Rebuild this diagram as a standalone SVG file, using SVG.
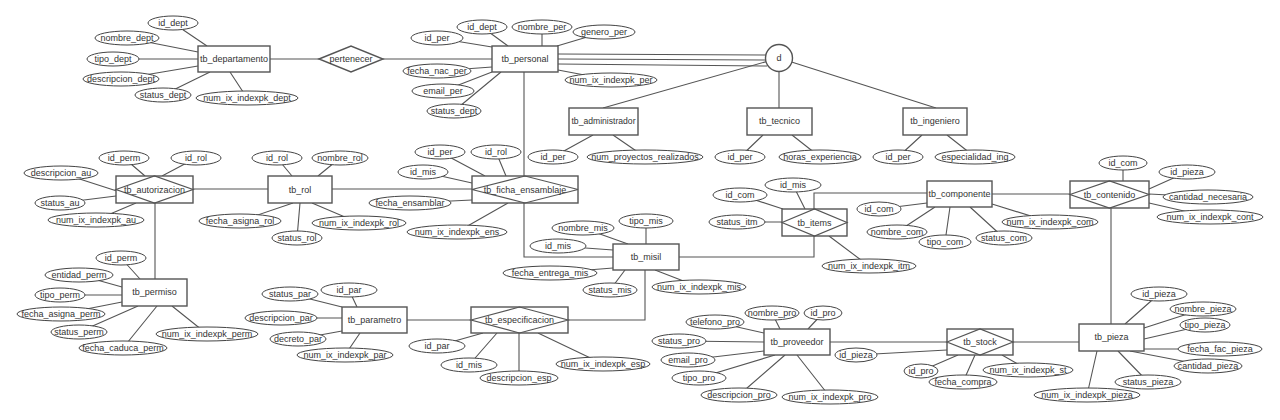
<svg xmlns="http://www.w3.org/2000/svg" width="1280" height="420" viewBox="0 0 1280 420">
<style>
.l{stroke:#555;stroke-width:1.1;fill:none}
.e{fill:#fff;stroke:#444;stroke-width:1}
.r{fill:#fff;stroke:#555;stroke-width:1.4}
.d{fill:none;stroke:#555;stroke-width:1.2}
.t{font-family:"Liberation Sans",Arial,sans-serif;font-size:9px;fill:#333;text-anchor:middle}
</style>
<rect width="1280" height="420" fill="#fff"/>
<g id="connectors" class="l">
<path d="M270,59H319M383,59H492"/>
<path d="M558,54L766,55M558,59L766,60M558,64L767,66"/>
<path d="M779,58L603,108M779,58V108M779,58L936,108"/>
<path d="M524,72V257H613M679,257H814V236M814,209V193H927M992,194H1070M1111,208V324M1013,342H1079M830,342H947M568,320H645V270M407,320H471M155,203V279M193,189H268M332,189H472"/>
<path d="M173,23L207,46M127,38L198,52M113,59L198,59M121,79L198,66M163,95L210,72M247,98L230,72"/>
<path d="M437,38L492,47M482,27L508,46M542,27L542,46M604,32L557,46M437,71L492,67M443,91L492,72M454,111L501,72M611,80L558,70"/>
<path d="M553,157L593,135M645,157L613,135M740,157L763,135M820,157L792,135M898,157L922,135M975,157L947,135"/>
<path d="M124,158L145,176M196,158L162,176M61,173L123,193M60,203L116,196M96,220L136,203"/>
<path d="M277,158L292,176M340,158L318,176M240,221L293,203M297,238L300,203M359,223L312,203"/>
<path d="M440,152L485,176M496,152L506,176M423,172L472,183M410,203L472,200M457,232L508,203"/>
<path d="M583,228L628,244M646,221L646,244M558,246L613,250M550,273L613,268M610,290L625,270M699,287L655,270"/>
<path d="M740,195L783,209M793,185L805,209M737,222L782,222M869,266L829,236"/>
<path d="M879,209L927,203M897,232L935,207M945,242L950,207M1004,238L970,207M1050,222L992,204"/>
<path d="M1123,163L1123,181M1187,172L1149,189M1208,197L1149,194M1210,217L1149,203"/>
<path d="M121,258L140,279M79,275L122,287M60,295L122,295M61,314L122,302M79,332L138,306M123,348L157,306M207,334L172,306"/>
<path d="M290,294L342,307M349,290L357,307M281,318L342,318M298,339L342,331M345,355L360,333"/>
<path d="M437,346L483,333M469,365L497,333M519,378L519,333M603,364L538,333"/>
<path d="M772,313L780,329M823,313L808,329M715,322L764,333M679,341L764,342M688,360L764,351M699,378L775,355M739,395L785,355M830,397L797,355"/>
<path d="M856,355L947,350M921,371L958,355M963,382L975,355M1028,370L1002,355"/>
<path d="M1159,294L1125,324M1203,309L1144,328M1205,325L1144,339M1220,349L1144,349M1208,366L1130,351M1148,382L1118,351M1087,395L1097,351"/>
</g>

<g id="tb_departamento">
<rect class="r" x="198" y="46" width="72" height="26"/><text class="t" x="234" y="62">tb_departamento</text>
<ellipse class="e" cx="173" cy="23" rx="25" ry="7"/><text class="t" x="173" y="26">id_dept</text>
<ellipse class="e" cx="127" cy="38" rx="32" ry="7"/><text class="t" x="127" y="41">nombre_dept</text>
<ellipse class="e" cx="113" cy="59" rx="26" ry="7"/><text class="t" x="113" y="62">tipo_dept</text>
<ellipse class="e" cx="121" cy="79" rx="38" ry="7"/><text class="t" x="121" y="82">descripcion_dept</text>
<ellipse class="e" cx="163" cy="95" rx="28" ry="7"/><text class="t" x="163" y="98">status_dept</text>
<ellipse class="e" cx="247" cy="98" rx="51" ry="7"/><text class="t" x="247" y="101">num_ix_indexpk_dept</text>
</g>

<g id="pertenecer">
<polygon class="r" points="319,59 351,46 383,59 351,72"/><text class="t" x="351" y="62">pertenecer</text>
</g>

<g id="tb_personal">
<rect class="r" x="492" y="46" width="66" height="26"/><text class="t" x="525" y="62">tb_personal</text>
<ellipse class="e" cx="437" cy="38" rx="26" ry="7"/><text class="t" x="437" y="41">id_per</text>
<ellipse class="e" cx="482" cy="27" rx="25" ry="7"/><text class="t" x="482" y="30">id_dept</text>
<ellipse class="e" cx="542" cy="27" rx="30" ry="7"/><text class="t" x="542" y="30">nombre_per</text>
<ellipse class="e" cx="604" cy="32" rx="31" ry="7"/><text class="t" x="604" y="35">genero_per</text>
<ellipse class="e" cx="437" cy="71" rx="34" ry="7"/><text class="t" x="437" y="74">fecha_nac_per</text>
<ellipse class="e" cx="443" cy="91" rx="31" ry="7"/><text class="t" x="443" y="94">email_per</text>
<ellipse class="e" cx="454" cy="111" rx="27" ry="7"/><text class="t" x="454" y="114">status_dept</text>
<ellipse class="e" cx="611" cy="80" rx="46" ry="7"/><text class="t" x="611" y="83">num_ix_indexpk_per</text>
</g>

<g id="d">
<circle class="r" cx="779" cy="58" r="13.5"/><text class="t" x="779" y="61">d</text>
</g>

<g id="tb_administrador">
<rect class="r" x="569" y="108" width="69" height="27"/><text class="t" x="603.5" y="124" style="font-size:8.6px">tb_administrador</text>
<ellipse class="e" cx="553" cy="157" rx="25" ry="7"/><text class="t" x="553" y="160">id_per</text>
<ellipse class="e" cx="645" cy="157" rx="58" ry="7"/><text class="t" x="645" y="160">num_proyectos_realizados</text>
</g>

<g id="tb_tecnico">
<rect class="r" x="747" y="108" width="65" height="27"/><text class="t" x="779.5" y="124">tb_tecnico</text>
<ellipse class="e" cx="740" cy="157" rx="25" ry="7"/><text class="t" x="740" y="160">id_per</text>
<ellipse class="e" cx="820" cy="157" rx="41" ry="7"/><text class="t" x="820" y="160">horas_experiencia</text>
</g>

<g id="tb_ingeniero">
<rect class="r" x="903" y="108" width="64" height="27"/><text class="t" x="935" y="124">tb_ingeniero</text>
<ellipse class="e" cx="898" cy="157" rx="25" ry="7"/><text class="t" x="898" y="160">id_per</text>
<ellipse class="e" cx="975" cy="157" rx="40" ry="7"/><text class="t" x="975" y="160">especialidad_ing</text>
</g>

<g id="tb_autorizacion">
<rect class="r" x="116" y="176" width="77" height="27"/><polygon class="d" points="116,189.5 154.5,176 193,189.5 154.5,203"/><text class="t" x="154.5" y="192.5">tb_autorizacion</text>
<ellipse class="e" cx="124" cy="158" rx="25" ry="7"/><text class="t" x="124" y="161">id_perm</text>
<ellipse class="e" cx="196" cy="158" rx="25" ry="7"/><text class="t" x="196" y="161">id_rol</text>
<ellipse class="e" cx="61" cy="173" rx="37" ry="7"/><text class="t" x="61" y="176">descripcion_au</text>
<ellipse class="e" cx="60" cy="203" rx="25" ry="7"/><text class="t" x="60" y="206">status_au</text>
<ellipse class="e" cx="96" cy="220" rx="48" ry="7"/><text class="t" x="96" y="223">num_ix_indexpk_au</text>
</g>

<g id="tb_rol">
<rect class="r" x="268" y="176" width="64" height="27"/><text class="t" x="300" y="192.5">tb_rol</text>
<ellipse class="e" cx="277" cy="158" rx="25" ry="7"/><text class="t" x="277" y="161">id_rol</text>
<ellipse class="e" cx="340" cy="158" rx="28" ry="7"/><text class="t" x="340" y="161">nombre_rol</text>
<ellipse class="e" cx="240" cy="221" rx="41" ry="7"/><text class="t" x="240" y="224">fecha_asigna_rol</text>
<ellipse class="e" cx="297" cy="238" rx="25" ry="7"/><text class="t" x="297" y="241">status_rol</text>
<ellipse class="e" cx="359" cy="223" rx="47" ry="7"/><text class="t" x="359" y="226">num_ix_indexpk_rol</text>
</g>

<g id="tb_ficha_ensamblaje">
<rect class="r" x="472" y="176" width="106" height="27"/><polygon class="d" points="472,189.5 525,176 578,189.5 525,203"/><text class="t" x="525" y="192.5">tb_ficha_ensamblaje</text>
<ellipse class="e" cx="440" cy="152" rx="25" ry="7"/><text class="t" x="440" y="155">id_per</text>
<ellipse class="e" cx="496" cy="152" rx="25" ry="7"/><text class="t" x="496" y="155">id_rol</text>
<ellipse class="e" cx="423" cy="172" rx="25" ry="7"/><text class="t" x="423" y="175">id_mis</text>
<ellipse class="e" cx="410" cy="203" rx="41" ry="7"/><text class="t" x="410" y="206">fecha_ensamblar</text>
<ellipse class="e" cx="457" cy="232" rx="50" ry="7"/><text class="t" x="457" y="235">num_ix_indexpk_ens</text>
</g>

<g id="tb_misil">
<rect class="r" x="613" y="244" width="66" height="26"/><text class="t" x="646" y="260">tb_misil</text>
<ellipse class="e" cx="583" cy="228" rx="31" ry="7"/><text class="t" x="583" y="231">nombre_mis</text>
<ellipse class="e" cx="646" cy="221" rx="27" ry="7"/><text class="t" x="646" y="224">tipo_mis</text>
<ellipse class="e" cx="558" cy="246" rx="28" ry="7"/><text class="t" x="558" y="249">id_mis</text>
<ellipse class="e" cx="550" cy="273" rx="47" ry="7"/><text class="t" x="550" y="276">fecha_entrega_mis</text>
<ellipse class="e" cx="610" cy="290" rx="27" ry="7"/><text class="t" x="610" y="293">status_mis</text>
<ellipse class="e" cx="699" cy="287" rx="47" ry="7"/><text class="t" x="699" y="290">num_ix_indexpk_mis</text>
</g>

<g id="tb_items">
<rect class="r" x="782" y="209" width="65" height="27"/><polygon class="d" points="782,222.5 814.5,209 847,222.5 814.5,236"/><text class="t" x="814.5" y="225.5">tb_items</text>
<ellipse class="e" cx="740" cy="195" rx="27" ry="7"/><text class="t" x="740" y="198">id_com</text>
<ellipse class="e" cx="793" cy="185" rx="28" ry="7"/><text class="t" x="793" y="188">id_mis</text>
<ellipse class="e" cx="737" cy="222" rx="28" ry="7"/><text class="t" x="737" y="225">status_itm</text>
<ellipse class="e" cx="869" cy="266" rx="47" ry="7"/><text class="t" x="869" y="269">num_ix_indexpk_itm</text>
</g>

<g id="tb_componente">
<rect class="r" x="927" y="181" width="65" height="26"/><text class="t" x="959.5" y="197">tb_componente</text>
<ellipse class="e" cx="879" cy="209" rx="22" ry="7"/><text class="t" x="879" y="212">id_com</text>
<ellipse class="e" cx="897" cy="232" rx="30" ry="7"/><text class="t" x="897" y="235">nombre_com</text>
<ellipse class="e" cx="945" cy="242" rx="26" ry="7"/><text class="t" x="945" y="245">tipo_com</text>
<ellipse class="e" cx="1004" cy="238" rx="28" ry="7"/><text class="t" x="1004" y="241">status_com</text>
<ellipse class="e" cx="1050" cy="222" rx="48" ry="7"/><text class="t" x="1050" y="225">num_ix_indexpk_com</text>
</g>

<g id="tb_contenido">
<rect class="r" x="1070" y="181" width="79" height="27"/><polygon class="d" points="1070,194.5 1109.5,181 1149,194.5 1109.5,208"/><text class="t" x="1109.5" y="197.5">tb_contenido</text>
<ellipse class="e" cx="1123" cy="163" rx="24" ry="7"/><text class="t" x="1123" y="166">id_com</text>
<ellipse class="e" cx="1187" cy="172" rx="28" ry="7"/><text class="t" x="1187" y="175">id_pieza</text>
<ellipse class="e" cx="1208" cy="197" rx="45" ry="7"/><text class="t" x="1208" y="200">cantidad_necesaria</text>
<ellipse class="e" cx="1210" cy="217" rx="53" ry="7"/><text class="t" x="1210" y="220">num_ix_indexpk_cont</text>
</g>

<g id="tb_permiso">
<rect class="r" x="122" y="279" width="65" height="27"/><text class="t" x="154.5" y="295">tb_permiso</text>
<ellipse class="e" cx="121" cy="258" rx="25" ry="7"/><text class="t" x="121" y="261">id_perm</text>
<ellipse class="e" cx="79" cy="275" rx="34" ry="7"/><text class="t" x="79" y="278">entidad_perm</text>
<ellipse class="e" cx="60" cy="295" rx="25" ry="7"/><text class="t" x="60" y="298">tipo_perm</text>
<ellipse class="e" cx="61" cy="314" rx="44" ry="7"/><text class="t" x="61" y="317">fecha_asigna_perm</text>
<ellipse class="e" cx="79" cy="332" rx="28" ry="7"/><text class="t" x="79" y="335">status_perm</text>
<ellipse class="e" cx="123" cy="348" rx="44" ry="7"/><text class="t" x="123" y="351">fecha_caduca_perm</text>
<ellipse class="e" cx="207" cy="334" rx="51" ry="7"/><text class="t" x="207" y="337">num_ix_indexpk_perm</text>
</g>

<g id="tb_parametro">
<rect class="r" x="342" y="307" width="65" height="26"/><text class="t" x="374.5" y="323">tb_parametro</text>
<ellipse class="e" cx="290" cy="294" rx="28" ry="7"/><text class="t" x="290" y="297">status_par</text>
<ellipse class="e" cx="349" cy="290" rx="28" ry="7"/><text class="t" x="349" y="293">id_par</text>
<ellipse class="e" cx="281" cy="318" rx="36" ry="7"/><text class="t" x="281" y="321">descripcion_par</text>
<ellipse class="e" cx="298" cy="339" rx="28" ry="7"/><text class="t" x="298" y="342">decreto_par</text>
<ellipse class="e" cx="345" cy="355" rx="48" ry="7"/><text class="t" x="345" y="358">num_ix_indexpk_par</text>
</g>

<g id="tb_especificacion">
<rect class="r" x="471" y="307" width="97" height="26"/><polygon class="d" points="471,320 519.5,307 568,320 519.5,333"/><text class="t" x="519.5" y="323">tb_especificacion</text>
<ellipse class="e" cx="437" cy="346" rx="28" ry="7"/><text class="t" x="437" y="349">id_par</text>
<ellipse class="e" cx="469" cy="365" rx="28" ry="7"/><text class="t" x="469" y="368">id_mis</text>
<ellipse class="e" cx="519" cy="378" rx="39" ry="7"/><text class="t" x="519" y="381">descripcion_esp</text>
<ellipse class="e" cx="603" cy="364" rx="47" ry="7"/><text class="t" x="603" y="367">num_ix_indexpk_esp</text>
</g>

<g id="tb_proveedor">
<rect class="r" x="764" y="329" width="66" height="26"/><text class="t" x="797" y="345">tb_proveedor</text>
<ellipse class="e" cx="772" cy="313" rx="27" ry="7"/><text class="t" x="772" y="316">nombre_pro</text>
<ellipse class="e" cx="823" cy="313" rx="19" ry="7"/><text class="t" x="823" y="316">id_pro</text>
<ellipse class="e" cx="715" cy="322" rx="29" ry="7"/><text class="t" x="715" y="325">telefono_pro</text>
<ellipse class="e" cx="679" cy="341" rx="27" ry="7"/><text class="t" x="679" y="344">status_pro</text>
<ellipse class="e" cx="688" cy="360" rx="27" ry="7"/><text class="t" x="688" y="363">email_pro</text>
<ellipse class="e" cx="699" cy="378" rx="27" ry="7"/><text class="t" x="699" y="381">tipo_pro</text>
<ellipse class="e" cx="739" cy="395" rx="38" ry="7"/><text class="t" x="739" y="398">descripcion_pro</text>
<ellipse class="e" cx="830" cy="397" rx="48" ry="7"/><text class="t" x="830" y="400">num_ix_indexpk_pro</text>
</g>

<g id="tb_stock">
<rect class="r" x="947" y="329" width="66" height="26"/><polygon class="d" points="947,342 980,329 1013,342 980,355"/><text class="t" x="980" y="345">tb_stock</text>
<ellipse class="e" cx="856" cy="355" rx="21" ry="7"/><text class="t" x="856" y="358">id_pieza</text>
<ellipse class="e" cx="921" cy="371" rx="17" ry="7"/><text class="t" x="921" y="374">id_pro</text>
<ellipse class="e" cx="963" cy="382" rx="34" ry="7"/><text class="t" x="963" y="385">fecha_compra</text>
<ellipse class="e" cx="1028" cy="370" rx="45" ry="7"/><text class="t" x="1028" y="373">num_ix_indexpk_st</text>
</g>

<g id="tb_pieza">
<rect class="r" x="1079" y="324" width="65" height="27"/><text class="t" x="1111.5" y="340">tb_pieza</text>
<ellipse class="e" cx="1159" cy="294" rx="28" ry="7"/><text class="t" x="1159" y="297">id_pieza</text>
<ellipse class="e" cx="1203" cy="309" rx="33" ry="7"/><text class="t" x="1203" y="312">nombre_pieza</text>
<ellipse class="e" cx="1205" cy="325" rx="25" ry="7"/><text class="t" x="1205" y="328">tipo_pieza</text>
<ellipse class="e" cx="1220" cy="349" rx="42" ry="7"/><text class="t" x="1220" y="352">fecha_fac_pieza</text>
<ellipse class="e" cx="1208" cy="366" rx="34" ry="7"/><text class="t" x="1208" y="369">cantidad_pieza</text>
<ellipse class="e" cx="1148" cy="382" rx="33" ry="7"/><text class="t" x="1148" y="385">status_pieza</text>
<ellipse class="e" cx="1087" cy="395" rx="53" ry="7"/><text class="t" x="1087" y="398">num_ix_indexpk_pieza</text>
</g>
</svg>
